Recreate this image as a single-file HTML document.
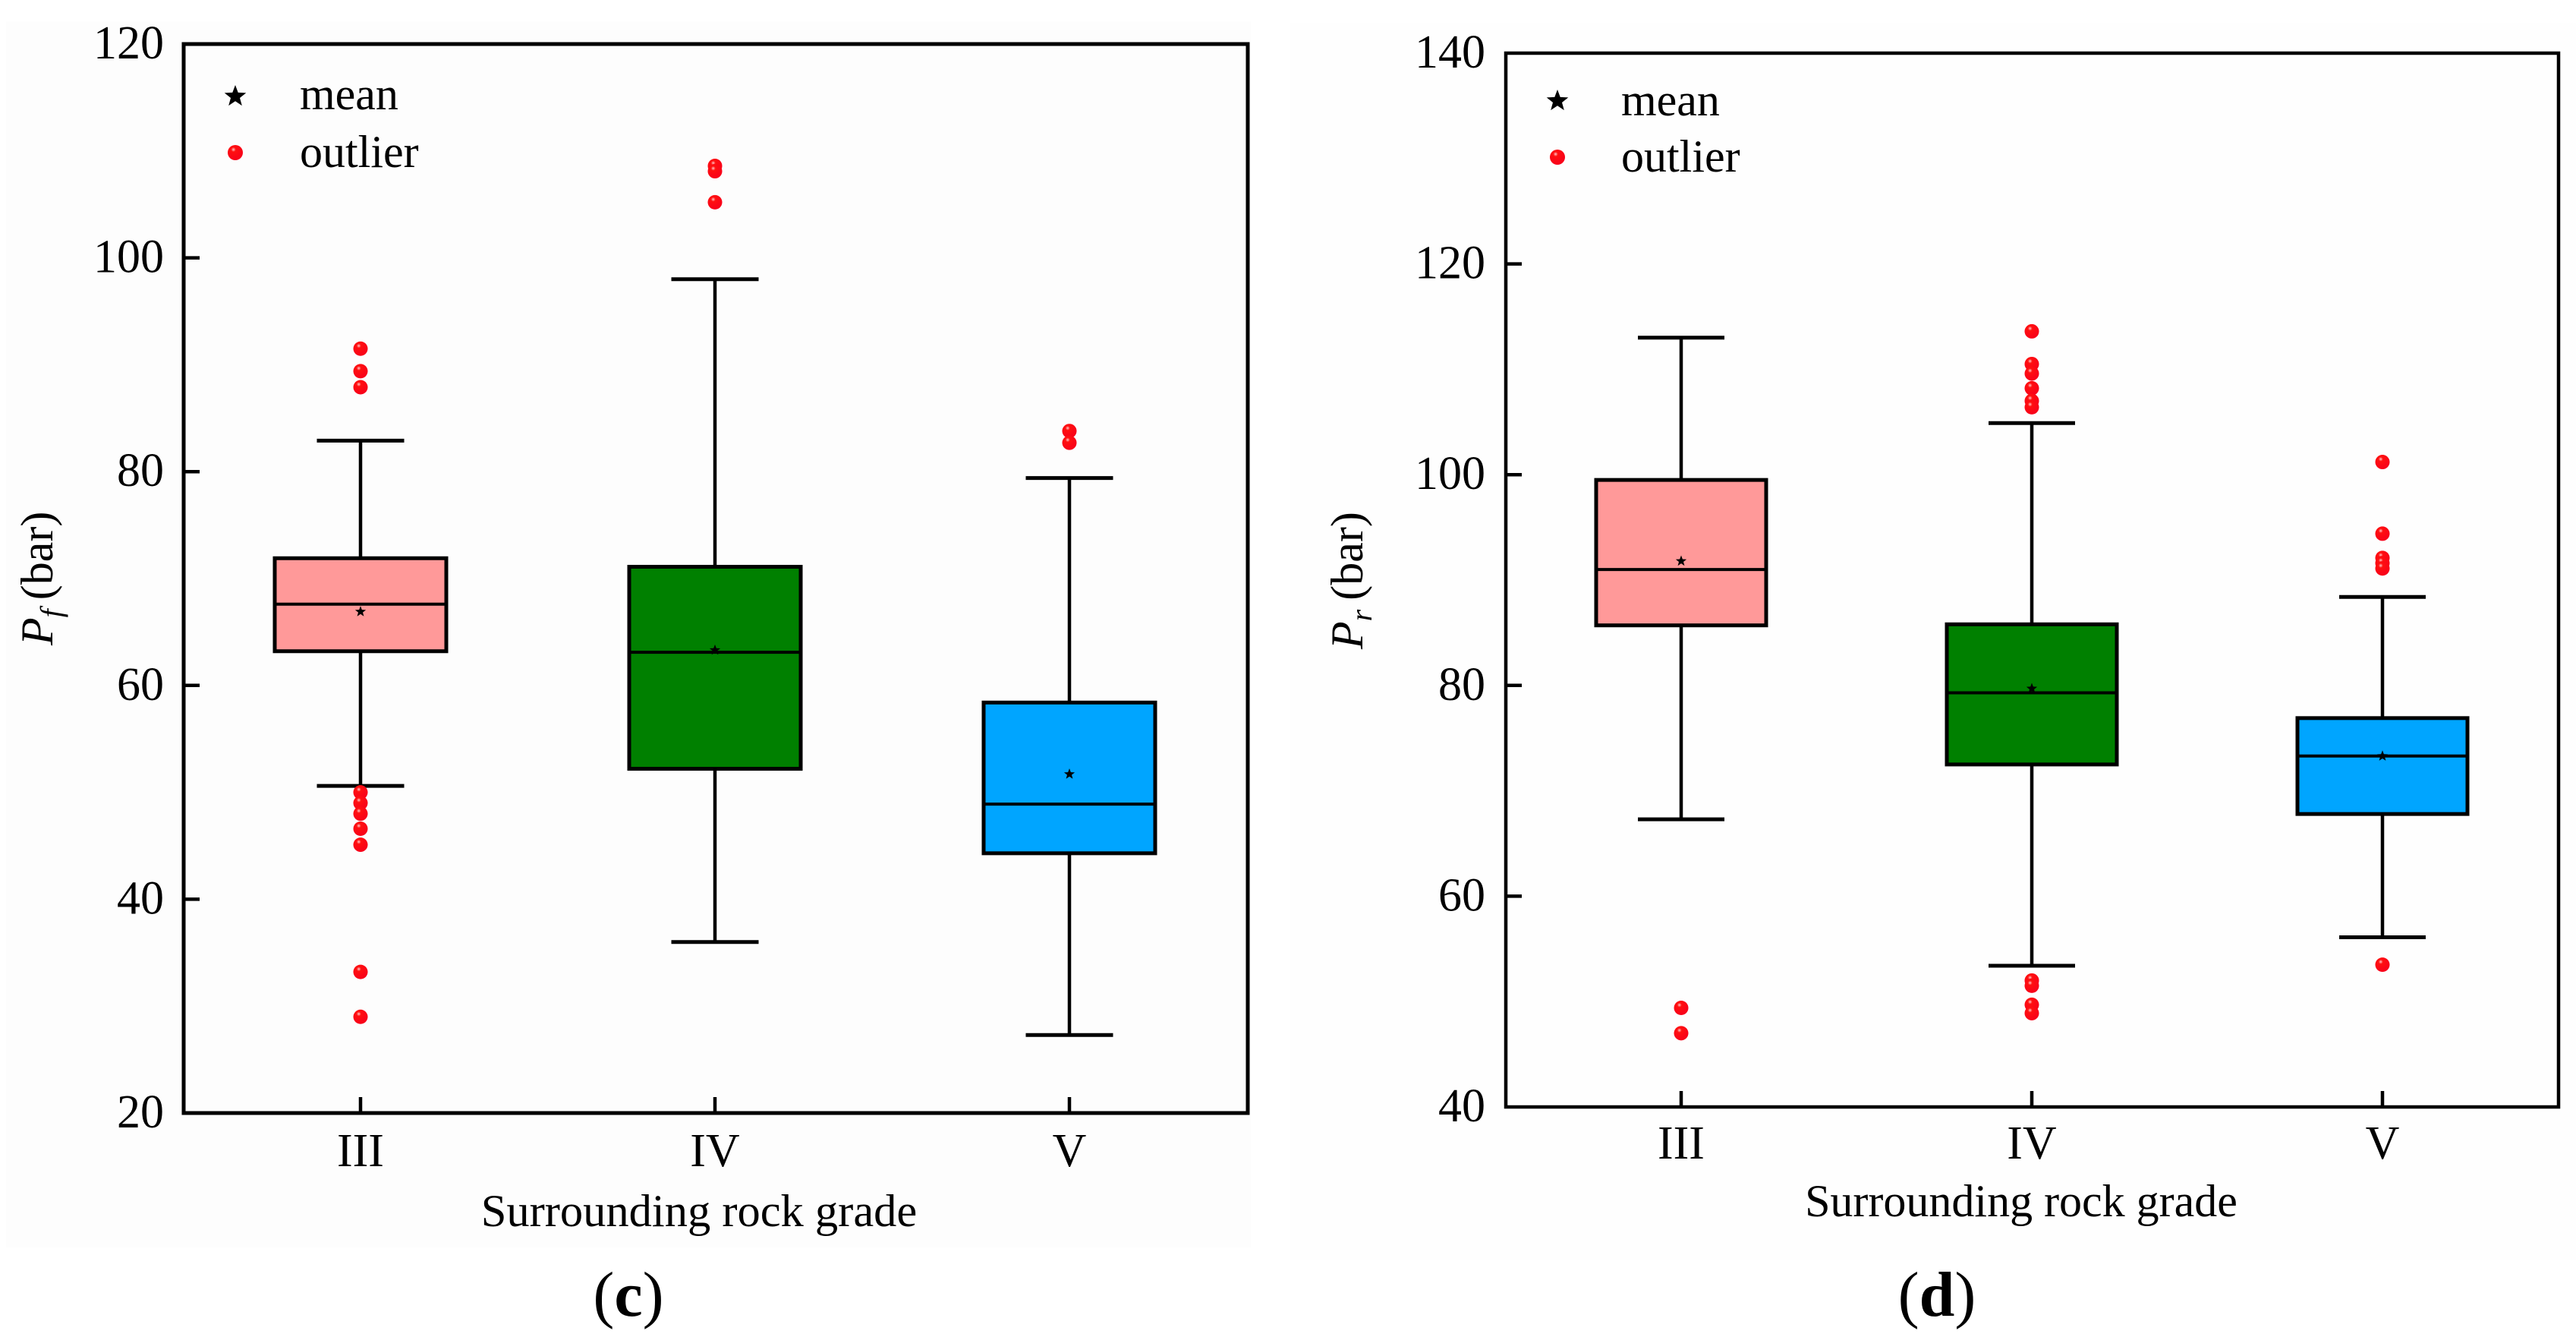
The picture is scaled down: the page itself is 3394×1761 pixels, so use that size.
<!DOCTYPE html>
<html lang="en">
<head>
<meta charset="utf-8">
<title>Box plots of Pf and Pr by surrounding rock grade</title>
<style>
  html, body { margin: 0; padding: 0; background: #fff; }
  svg { display: block; }
  text { font-family: "Liberation Serif", serif; fill: #000; }
</style>
</head>
<body>
<svg id="figure" xmlns="http://www.w3.org/2000/svg" width="3394" height="1761" viewBox="0 0 3394 1761">
  <defs>
    <radialGradient id="dotFill" cx="0.38" cy="0.3" r="0.7">
      <stop offset="0" stop-color="#ffc8c8"/>
      <stop offset="0.22" stop-color="#ff1010"/>
      <stop offset="1" stop-color="#f8001a"/>
    </radialGradient>
  </defs>
  <rect x="0" y="0" width="3394" height="1761" fill="#ffffff"/>
  <rect x="8" y="28" width="1640" height="1615" fill="#fdfdfd"/>
  <rect x="1700" y="30" width="1694" height="1630" fill="#fefefe"/>

  <g id="panelC">
    <text transform="translate(69,850) rotate(-90)" font-size="60"><tspan font-style="italic">P</tspan><tspan font-style="italic" font-size="40" dy="12">f</tspan><tspan dy="-12" dx="12">(bar)</tspan></text>
    <text x="921" y="1615" font-size="60.5" text-anchor="middle">Surrounding rock grade</text>
    <text x="395" y="144" font-size="60">mean</text>
    <text x="395" y="220" font-size="60">outlier</text>
    <text x="828" y="1733" font-size="84" text-anchor="middle">(<tspan font-weight="bold">c</tspan>)</text>
  </g>

  <g id="panelD">
    <text transform="translate(1795,855) rotate(-90)" font-size="60"><tspan font-style="italic">P</tspan><tspan font-style="italic" font-size="40" dy="12">r</tspan><tspan dy="-12" dx="12">(bar)</tspan></text>
    <text x="2663" y="1602" font-size="60" text-anchor="middle">Surrounding rock grade</text>
    <text x="2136" y="152" font-size="60">mean</text>
    <text x="2136" y="226" font-size="60">outlier</text>
    <text x="2552" y="1733" font-size="84" text-anchor="middle">(<tspan font-weight="bold">d</tspan>)</text>
  </g>
</svg>

<script>
// Shared categories
const categories = ["III", "IV", "V"];

// Panel (c): Pf values in bar
const cTicks = [20, 40, 60, 80, 100, 120];
const cWhiskerLow = [50.6, 36.0, 27.3];
const cQ1 = [63.2, 52.2, 44.3];
const cMedian = [67.6, 63.1, 48.9];
const cQ3 = [71.9, 71.1, 58.4];
const cWhiskerHigh = [82.9, 98.0, 79.4];
const cMean = [66.9, 63.3, 51.7];
const cOutliersIII = [91.5, 89.4, 87.9, 50.0, 49.0, 48.0, 46.6, 45.1, 33.2, 29.0];
const cOutliersIV = [108.6, 108.1, 105.2];
const cOutliersV = [83.8, 82.7];

// Panel (d): Pr values in bar
const dTicks = [40, 60, 80, 100, 120, 140];
const dWhiskerLow = [67.3, 53.4, 56.1];
const dQ1 = [85.7, 72.5, 67.8];
const dMedian = [91.0, 79.3, 73.3];
const dQ3 = [99.5, 85.8, 76.9];
const dWhiskerHigh = [113.0, 104.9, 88.4];
const dMean = [91.8, 79.7, 73.3];
const dOutliersIII = [49.4, 47.0];
const dOutliersIV = [113.6, 110.5, 109.6, 108.2, 107.0, 106.4, 52.0, 51.5, 49.7, 48.9];
const dOutliersV = [101.2, 94.4, 92.1, 91.6, 91.1, 53.5];

const boxColors = ["#ff9999", "#008000", "#00a5ff"];
const SVGNS = "http://www.w3.org/2000/svg";

function make(parent, tag, attrs) {
  const node = document.createElementNS(SVGNS, tag);
  for (const key in attrs) node.setAttribute(key, attrs[key]);
  parent.appendChild(node);
  return node;
}

function starPoints(cx, cy, R) {
  const pts = [];
  for (let i = 0; i < 10; i++) {
    const radius = i % 2 === 0 ? R : R * 0.42;
    const angle = -Math.PI / 2 + i * Math.PI / 5;
    pts.push((cx + radius * Math.cos(angle)).toFixed(2) + "," + (cy + radius * Math.sin(angle)).toFixed(2));
  }
  return pts.join(" ");
}

function drawPanel(cfg) {
  const root = document.getElementById(cfg.rootId);
  const yScale = v => cfg.yBottom - (v - cfg.yMin) * (cfg.yBottom - cfg.yTop) / (cfg.yMax - cfg.yMin);
  const xScale = i => cfg.xFirst + i * cfg.xStep;

  // Boxes, whiskers, medians, means, outliers
  categories.forEach((category, i) => {
    const cx = xScale(i);
    const stem = make(root, "line", { x1: cx, x2: cx, y1: yScale(cfg.whiskerHigh[i]), y2: yScale(cfg.whiskerLow[i]), stroke: "#000", "stroke-width": 4.5 });
    
    

    const capHigh = make(root, "line", { x1: cx - cfg.capHalf, x2: cx + cfg.capHalf, y1: yScale(cfg.whiskerHigh[i]), y2: yScale(cfg.whiskerHigh[i]), stroke: "#000", "stroke-width": 5 });
    
    

    const capLow = make(root, "line", { x1: cx - cfg.capHalf, x2: cx + cfg.capHalf, y1: yScale(cfg.whiskerLow[i]), y2: yScale(cfg.whiskerLow[i]), stroke: "#000", "stroke-width": 5 });
    
    

    const box = make(root, "rect", { x: cx - cfg.boxHalf, y: yScale(cfg.q3[i]), width: 2 * cfg.boxHalf, height: yScale(cfg.q1[i]) - yScale(cfg.q3[i]), fill: boxColors[i], stroke: "#000", "stroke-width": 5 });
    
    

    const median = make(root, "line", { x1: cx - cfg.boxHalf, x2: cx + cfg.boxHalf, y1: yScale(cfg.median[i]), y2: yScale(cfg.median[i]), stroke: "#000", "stroke-width": 4 });
    
    

    const mean = make(root, "polygon", { points: starPoints(cx, yScale(cfg.mean[i]), 7.5), fill: "#000" });
    
    

    cfg.outliers[i].forEach(value => {
      const dot = make(root, "circle", { cx: cx, cy: yScale(value), r: 9.5, fill: "url(#dotFill)" });
      
      
    });
  });

  // Frame on top of the marks
  const frame = make(root, "rect", { x: cfg.xLeft, y: cfg.yTop, width: cfg.xRight - cfg.xLeft, height: cfg.yBottom - cfg.yTop, fill: "none", stroke: "#000", "stroke-width": cfg.frameWidth });
  
  

  // Y axis ticks and labels
  cfg.ticks.forEach(value => {
    const y = yScale(value);
    if (value !== cfg.yMin && value !== cfg.yMax) {
      const tick = make(root, "line", { x1: cfg.xLeft, x2: cfg.xLeft + 21, y1: y, y2: y, stroke: "#000", "stroke-width": 4.5 });
      
      
    }
    const label = make(root, "text", { x: cfg.xLeft - cfg.yLabelGap, y: y + 19, "font-size": 62, "text-anchor": "end" });
    label.textContent = String(value);
    
    
  });

  // X axis ticks and labels
  categories.forEach((category, i) => {
    const x = xScale(i);
    const tick = make(root, "line", { x1: x, x2: x, y1: cfg.yBottom, y2: cfg.yBottom - 21, stroke: "#000", "stroke-width": 4.5 });
    
    
    const label = make(root, "text", { x: x, y: cfg.yBottom + cfg.xLabelGap, "font-size": 62, "text-anchor": "middle" });
    label.textContent = category;
    
    
  });

  // Legend symbols
  const legendStar = make(root, "polygon", { points: starPoints(cfg.legendX, cfg.legendStarY, 15), fill: "#000" });
  
  
  const legendDot = make(root, "circle", { cx: cfg.legendX, cy: cfg.legendDotY, r: 10, fill: "url(#dotFill)" });
  
  
}

drawPanel({
  rootId: "panelC",
  xLeft: 242, xRight: 1644, yTop: 58, yBottom: 1466,
  yMin: 20, yMax: 120, xFirst: 475, xStep: 467,
  boxHalf: 113, capHalf: 57.5, frameWidth: 5,
  yLabelGap: 26, xLabelGap: 70,
  legendX: 310, legendStarY: 127, legendDotY: 201,
  ticks: cTicks, whiskerLow: cWhiskerLow, q1: cQ1, median: cMedian, q3: cQ3,
  whiskerHigh: cWhiskerHigh, mean: cMean,
  outliers: [cOutliersIII, cOutliersIV, cOutliersV]
});

drawPanel({
  rootId: "panelD",
  xLeft: 1984, xRight: 3371, yTop: 70, yBottom: 1458,
  yMin: 40, yMax: 140, xFirst: 2215, xStep: 462,
  boxHalf: 112, capHalf: 57, frameWidth: 4.5,
  yLabelGap: 27, xLabelGap: 68,
  legendX: 2052, legendStarY: 133, legendDotY: 207,
  ticks: dTicks, whiskerLow: dWhiskerLow, q1: dQ1, median: dMedian, q3: dQ3,
  whiskerHigh: dWhiskerHigh, mean: dMean,
  outliers: [dOutliersIII, dOutliersIV, dOutliersV]
});
</script>
</body>
</html>
